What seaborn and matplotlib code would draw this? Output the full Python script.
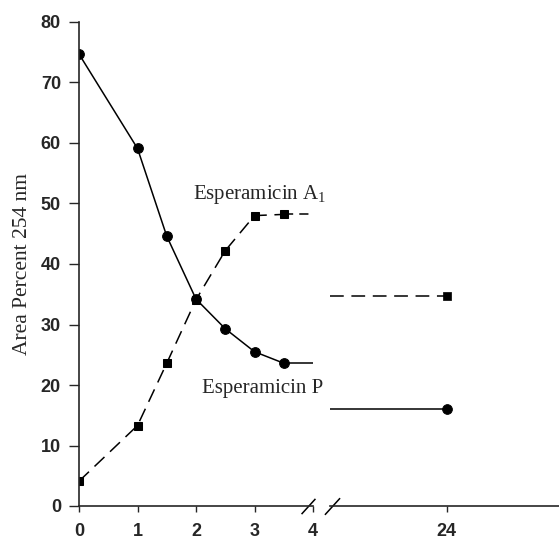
import matplotlib
matplotlib.use("Agg")
import matplotlib.pyplot as plt
import seaborn as sns
import pandas as pd

# data
time_early = [0, 1, 1.5, 2, 2.5, 3, 3.5]
esp_p_early = [74.7, 59.1, 44.6, 34.2, 29.3, 25.5, 23.6]
esp_a1_early = [4.1, 13.3, 23.6, 34.1, 42.2, 48.0, 48.2]
time_late = [24]
esp_p_late = [16.1]
esp_a1_late = [34.7]
x_ticks_early = [0, 1, 2, 3, 4]
x_ticks_late = [24]
y_ticks = [0, 10, 20, 30, 40, 50, 60, 70, 80]

sns.set_style("ticks")
plt.rcParams["font.family"] = ["Liberation Sans", "DejaVu Sans"]
serif = ["Liberation Serif", "DejaVu Serif"]

df_early = pd.DataFrame({"t": time_early, "P": esp_p_early, "A1": esp_a1_early})
df_late = pd.DataFrame({"t": time_late, "P": esp_p_late, "A1": esp_a1_late})

fig = plt.figure(figsize=(5.59, 5.44), dpi=100)
ax1 = fig.add_axes([79 / 559, 38 / 544, 234 / 559, 484 / 544])
ax2 = fig.add_axes([330 / 559, 38 / 544, 229 / 559, 484 / 544], sharey=ax1)

lw = 1.1
# early part
sns.lineplot(data=df_early, x="t", y="P", ax=ax1, color="black", lw=lw,
             marker="o", markersize=7, markeredgecolor="black")
sns.lineplot(data=df_early, x="t", y="A1", ax=ax1, color="black", lw=lw,
             marker="s", markersize=6, markeredgecolor="black", dashes=(9, 5))
# plateau continuation up to the break
ax1.plot([time_early[-1], x_ticks_early[-1]], [esp_p_early[-1]] * 2, color="black", lw=lw)
ax1.plot([time_early[-1], x_ticks_early[-1]], [esp_a1_early[-1]] * 2, color="black", lw=lw,
         dashes=(6, 4))

# late part
x_start = 22
ax2.plot([x_start, time_late[0]], [esp_p_late[0]] * 2, color="black", lw=lw)
ax2.plot([x_start, time_late[0]], [esp_a1_late[0]] * 2, color="black", lw=lw, dashes=(9, 5))
sns.scatterplot(data=df_late, x="t", y="P", ax=ax2, color="black", marker="o", s=50,
                edgecolor="black", zorder=3)
sns.scatterplot(data=df_late, x="t", y="A1", ax=ax2, color="black", marker="s", s=40,
                edgecolor="black", zorder=3)

ax1.set_xlim(0, 4)
ax2.set_xlim(22, 25.92)
ax1.set_ylim(0, 80)

ax1.set_xticks(x_ticks_early)
ax2.set_xticks(x_ticks_late)
ax1.set_yticks(y_ticks)

for ax in (ax1, ax2):
    ax.set_xlabel("")
    ax.set_ylabel("")
    ax.spines["top"].set_visible(False)
    ax.spines["right"].set_visible(False)
    ax.spines["bottom"].set_linewidth(1.2)
    ax.tick_params(axis="x", direction="out", length=4, width=1, pad=8, labelsize=13)
    for lab in ax.get_xticklabels():
        lab.set_fontweight("bold")

ax2.spines["left"].set_visible(False)
ax2.tick_params(axis="y", left=False, labelleft=False)
ax1.spines["left"].set_linewidth(1.2)
ax1.tick_params(axis="y", direction="out", length=7, width=1, pad=6, labelsize=13)
for lab in ax1.get_yticklabels():
    lab.set_fontweight("bold")

ax1.set_ylabel("Area Percent 254 nm", family=serif, fontsize=15.5, labelpad=6)

ax1.text(1.95, 51.5, "Esperamicin A$_\\mathregular{1}$", family=serif, fontsize=15,
         va="center", ha="left")
ax1.text(2.1, 19.5, "Esperamicin P", family=serif, fontsize=15, va="center", ha="left")

# axis break marks
brk = [(-1, -1.1), (1, 1.1)]
ax1.plot([0.98], [0], transform=ax1.transAxes, marker=brk, markersize=11, color="black",
         mew=1.1, clip_on=False)
ax2.plot([0.01], [0], transform=ax2.transAxes, marker=brk, markersize=12, color="black",
         mew=1.1, clip_on=False)

fig.savefig("out.png", dpi=100)
